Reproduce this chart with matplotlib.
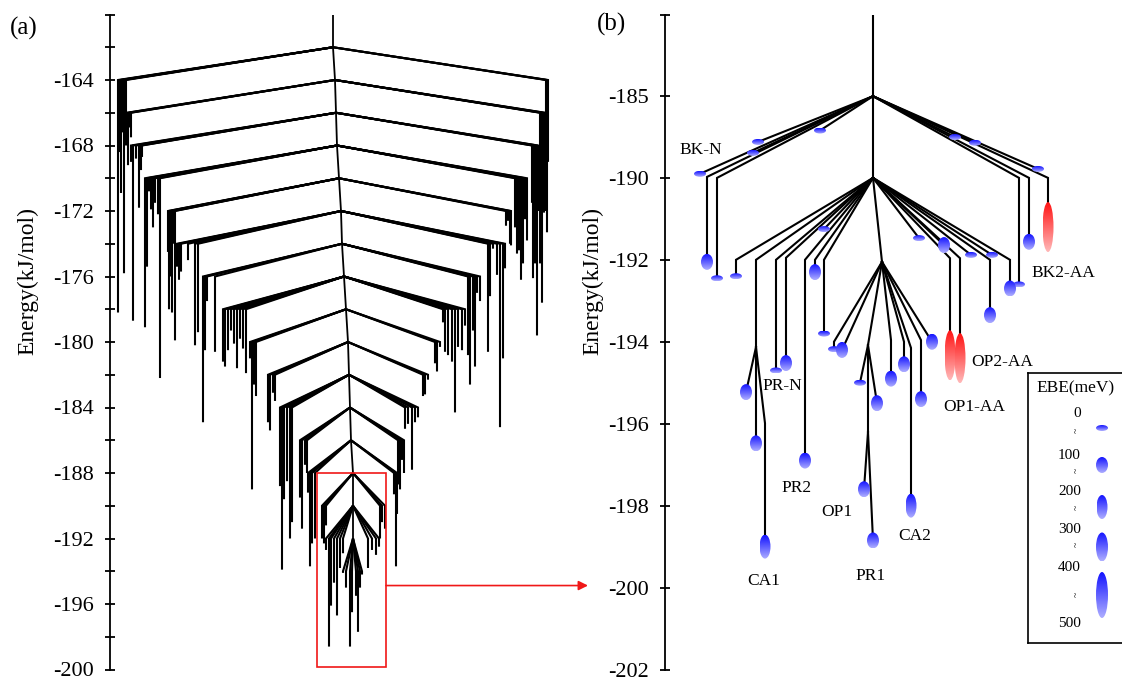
import numpy as np
import matplotlib
matplotlib.use("Agg")
import matplotlib.pyplot as plt
import matplotlib.transforms as mtransforms
from matplotlib.patches import Ellipse, Rectangle
from matplotlib.collections import LineCollection

plt.rcParams['font.family'] = ['Liberation Serif', 'DejaVu Serif']
plt.rcParams['axes.unicode_minus'] = False

nan = np.nan

# ---------------------------------------------------------------------------
# Panel (a): disconnectivity graph of the full landscape
# ---------------------------------------------------------------------------
a_top_E = -160.0
a_step = 2.0  # each basin splits 2 kJ/mol below its parent node
a_apex_E = [-162, -164, -166, -168, -170, -172, -174, -176, -178, -180,
            -182, -184, -186, -188, -190, -192]
a_apex_x = [333, 335, 336, 337, 339, 341, 342, 344, 346, 348,
            349, 350, 351, 353, 353, 353]
# minima hanging from every node: (horizontal slot, energy of the minimum)
a_minima = [
    [(118, -178.2), (120, -168.4), (121, -170.9), (123, -167.2), (124, -175.8), (126, -168.0),
     (546, -172.0), (547, -173.3), (548, -169.0)],
    [(127, -167.4), (128, -169.2), (130, -166.9), (131, -167.5),
     (540, -175.2), (541, -169.0), (542, -177.6), (544, -172.1), (545, -168.5)],
    [(131, -169.0), (133, -178.7), (136, -168.8), (139, -171.8), (141, -169.5), (142, -168.7),
     (532, -171.5), (533, -176.1), (535, -175.2), (537, -179.6), (538, -172.0)],
    [(145, -179.1), (147, -175.4), (149, -170.8), (151, -171.9), (153, -173.0), (155, -171.5),
     (158, -172.2), (160, -182.2),
     (515, -173.0), (517, -174.6), (519, -174.4), (521, -176.2), (523, -175.2), (525, -172.5),
     (527, -173.8)],
    [(168, -174.5), (169, -178.0), (171, -176.0), (172, -178.2), (174, -174.0), (175, -179.9),
     (506, -172.9), (508, -172.6), (510, -174.0), (511, -174.1)],
    [(177, -175.4), (179, -176.2), (181, -175.7), (188, -175.0), (195, -180.2), (198, -179.4),
     (488, -180.6), (490, -177.2), (493, -174.3), (497, -175.9), (500, -185.2), (503, -181.0),
     (505, -175.5)],
    [(203, -184.9), (205, -180.5), (207, -177.5), (215, -180.6),
     (468, -180.8), (470, -182.6), (473, -179.3), (475, -181.5), (477, -177.0), (480, -177.5)],
    [(223, -181.2), (225, -181.5), (228, -180.5), (231, -179.3), (234, -180.1), (237, -181.6),
     (240, -179.8), (243, -180.4), (246, -181.9),
     (443, -178.8), (445, -180.6), (448, -180.8), (452, -181.2), (455, -184.3), (458, -180.3),
     (462, -180.5), (465, -179.0)],
    [(250, -181.0), (252, -189.0), (254, -182.6), (256, -183.3),
     (435, -181.3), (437, -181.8), (440, -180.3)],
    [(268, -184.9), (270, -185.4), (273, -183.1), (275, -183.6),
     (423, -183.3), (425, -183.2), (428, -182.3)],
    [(280, -188.8), (282, -193.9), (284, -189.6), (287, -188.5), (290, -192.0), (292, -191.0),
     (405, -185.3), (408, -185.0), (412, -187.8), (415, -184.9), (418, -184.6)],
    [(300, -189.5), (302, -191.4), (305, -187.5), (307, -188.0),
     (398, -188.7), (400, -189.0), (402, -187.2), (404, -188.0)],
    [(308, -189.2), (310, -193.7), (312, -192.3), (315, -192.0),
     (394, -189.3), (396, -193.7), (397, -190.5)],
    [(322, -192.0), (324, -192.3), (326, -191.2),
     (380, -192.0), (382, -191.0), (385, -191.4)],
    [(326, -192.7), (329, -198.6), (331, -196.1), (334, -194.7), (337, -196.7), (340, -193.8),
     (343, -192.9),
     (368, -193.8), (372, -192.7), (376, -193.0), (379, -192.5)],
    [(343, -194.1), (346, -195.0), (350, -198.6), (352, -196.5),
     (356, -195.5), (358, -197.7), (360, -195.0), (362, -194.2)],
]
a_zoom_E = (-199.85, -188.0)   # energy window enlarged in panel (b)
a_zoom_x = (317, 386)

# ---------------------------------------------------------------------------
# Panel (b): enlarged low-energy funnel
# ---------------------------------------------------------------------------
b_nodes = {'top': (873, -180.0), 'A': (873, -185.0), 'B': (873, -190.0),
           'C': (882, -192.05), 'D': (868, -194.08), 'E': (868, -196.2),
           'S': (756, -194.13)}
b_links = [('top', 'A', nan), ('A', 'B', nan), ('B', 'C', nan), ('C', 'D', nan),
           ('D', 'E', nan), ('B', 'S', -192.0)]

b_leaf_parent = ['A'] * 12 + ['B'] * 15 + ['S'] * 3 + ['C'] * 7 + ['D'] * 2 + ['E'] * 2
b_leaf_x = [700, 753, 758, 820, 707, 717, 955, 975, 1038, 1019, 1029, 1048,
            736, 776, 786, 805, 815, 824, 824, 919, 944, 950, 960, 971, 992, 990, 1010,
            746, 756, 765,
            834, 842, 891, 904, 911, 921, 932,
            860, 877, 864, 873]
b_leaf_bend = [nan, nan, nan, nan, -189.94, -190.0, nan, nan, nan, -190.0, -190.0, -190.0,
               -192.0, -192.0, -191.95, -192.0, -192.0, -192.0, nan, nan, nan, -191.96, -191.96,
               nan, nan, -192.0, -192.0,
               nan, nan, -195.99,
               -194.0, nan, -193.96, -194.0, -194.15, -193.96, nan,
               nan, nan, nan, nan]
b_leaf_E = [-189.75, -188.47, -187.8, -187.1, -192.05, -192.45, -187.5, -187.85, -189.45,
            -192.6, -191.56, -191.2,
            -192.4, -194.7, -194.52, -196.9, -192.3, -193.8, -191.25, -191.47, -191.64,
            -194.33, -194.4, -191.88, -191.88, -193.35, -192.7,
            -195.23, -196.48, -199.0,
            -194.18, -194.2, -194.9, -194.55, -198.0, -195.4, -194.0,
            -195.0, -195.5, -197.6, -198.85]
# electron binding energy of each minimum (meV)
b_leaf_ebe = [50, 50, 50, 50, 150, 50, 50, 50, 50, 50, 150, 560,
              50, 50, 150, 150, 150, 50, 50, 50, 150, 560, 560, 50, 50, 150, 150,
              150, 150, 250,
              50, 150, 150, 150, 250, 150, 150,
              50, 150, 150, 150]

b_lab_text = ['BK-N', 'BK2-AA', 'PR-N', 'OP2-AA', 'OP1-AA', 'PR2', 'OP1', 'CA2', 'CA1', 'PR1']
b_lab_x = [701, 1063, 782, 1002, 974, 797, 837, 915, 764, 871]
b_lab_E = [-188.27, -192.33, -195.09, -194.50, -195.60, -197.56, -198.16, -198.73,
           -199.84, -199.71]

ebe_levels = [0, 100, 200, 300, 400, 500]
a_ticks_major = np.arange(-200, -163, 4)
a_ticks_minor = np.arange(-200, -159, 2)
b_ticks_major = [-202, -200, -198, -196, -194, -192, -190, -185]
b_ticks_minor = [-180]

# ---------------------------------------------------------------------------
W, H = 1122, 677
fig = plt.figure(figsize=(W / 100, H / 100), dpi=100)


def frame(x0, y0, x1, y1):
    return [x0 / W, 1 - y1 / H, (x1 - x0) / W, (y1 - y0) / H]


def style_axis(ax):
    for s in ('top', 'right', 'bottom'):
        ax.spines[s].set_visible(False)
    ax.spines['left'].set_linewidth(1.3)
    ax.xaxis.set_visible(False)
    ax.tick_params(axis='y', which='both', direction='inout', length=7, width=1.3,
                   pad=8, labelsize=16)
    ax.patch.set_alpha(0)


BLUE_TOP, BLUE_BOT = (0.08, 0.08, 1.0, 1.0), (0.68, 0.68, 1.0, 1.0)
RED_TOP, RED_BOT = (1.0, 0.08, 0.08, 1.0), (1.0, 0.72, 0.72, 1.0)
BLOB_SIZE = [(12, 6), (12, 16), (11, 24), (12, 29), (12, 46)]
RED_SIZE = (11, 50)


def blob(ax, x, e, w, h, top, bot, z=4):
    """Gradient-filled ellipse of fixed pixel size centred on (x, e)."""
    tr = (mtransforms.Affine2D().scale(w / 2, h / 2)
          + mtransforms.ScaledTranslation(x, e, ax.transData))
    ell = Ellipse((0, 0), 2, 2, transform=tr, facecolor='none', edgecolor='none')
    ax.add_patch(ell)
    t = np.linspace(0, 1, 48)[:, None, None]
    img = (1 - t) * np.array(top)[None, None, :] + t * np.array(bot)[None, None, :]
    im = ax.imshow(img, extent=(-1, 1, -1, 1), transform=tr, origin='upper',
                   aspect='auto', interpolation='bilinear', zorder=z)
    im.set_clip_path(ell)


def blob_for(ebe):
    if ebe > 500:
        return RED_SIZE, RED_TOP, RED_BOT
    return BLOB_SIZE[min(int(ebe // 100), 4)], BLUE_TOP, BLUE_BOT


# ------------------------------ panel (a) ----------------------------------
axa = fig.add_axes(frame(110, 14.5, 600, 669.5))
axa.set_xlim(110, 600)
axa.set_ylim(-200, -160)
axa.set_autoscale_on(False)
style_axis(axa)
axa.set_yticks(a_ticks_major)
axa.set_yticks(a_ticks_minor, minor=True)
axa.set_yticklabels([f'{int(v)}' for v in a_ticks_major])
axa.set_ylabel('Energy(kJ/mol)', fontsize=17)
axa.yaxis.set_label_coords(-0.147, 0.593)

trunk_x = [a_apex_x[0]] + a_apex_x
trunk_E = [a_top_E] + a_apex_E
axa.plot(trunk_x, trunk_E, color='k', lw=1.3, solid_joinstyle='miter')
segs = []
for px, pe, mins in zip(a_apex_x, a_apex_E, a_minima):
    for x, e in mins:
        segs.append([(px, pe), (x, pe - a_step), (x, e)])
axa.add_collection(LineCollection(segs, colors='k', linewidths=1.5,
                                  joinstyle='miter', capstyle='butt'))

red = '#f01818'
axa.add_patch(Rectangle((a_zoom_x[0], a_zoom_E[0]), a_zoom_x[1] - a_zoom_x[0],
                        a_zoom_E[1] - a_zoom_E[0], fill=False, edgecolor=red, lw=1.2,
                        zorder=5))
arrow_E = a_zoom_E[0] + 0.42 * (a_zoom_E[1] - a_zoom_E[0])
axa.annotate('', xy=(588, arrow_E), xytext=(a_zoom_x[1], arrow_E),
             arrowprops=dict(arrowstyle='-|>', color=red, lw=1.2, mutation_scale=14,
                             shrinkA=0, shrinkB=0), annotation_clip=False)

# ------------------------------ panel (b) ----------------------------------
r = 0.3988  # compression of the upper part of the energy axis


def fwd(e):
    e = np.asarray(e, dtype=float)
    return np.where(e < -190, e, -190 + (e + 190) * r)


def inv(y):
    y = np.asarray(y, dtype=float)
    return np.where(y < -190, y, -190 + (y + 190) / r)


axb = fig.add_axes(frame(664.5, 14.5, 1122, 669.5))
axb.set_yscale('function', functions=(fwd, inv))
axb.set_xlim(664.5, 1122)
axb.set_ylim(-202, -180)
axb.set_autoscale_on(False)
style_axis(axb)
axb.set_yticks(b_ticks_major)
axb.set_yticks(b_ticks_minor, minor=True)
axb.set_yticklabels([f'{v}' for v in b_ticks_major])
axb.yaxis.set_minor_formatter(plt.NullFormatter())
axb.set_ylabel('Energy(kJ/mol)', fontsize=17)
axb.yaxis.set_label_coords(-0.134, 0.593)

lw_b = 1.5
for p, c, bend in b_links:
    (x0, e0), (x1, e1) = b_nodes[p], b_nodes[c]
    if np.isnan(bend):
        axb.plot([x0, x1], [e0, e1], color='k', lw=lw_b)
    else:
        axb.plot([x0, x1, x1], [e0, bend, e1], color='k', lw=lw_b,
                 solid_joinstyle='miter')

for p, x, bend, e, ebe in zip(b_leaf_parent, b_leaf_x, b_leaf_bend, b_leaf_E, b_leaf_ebe):
    x0, e0 = b_nodes[p]
    if np.isnan(bend):
        axb.plot([x0, x], [e0, e], color='k', lw=lw_b)
    else:
        axb.plot([x0, x, x], [e0, bend, e], color='k', lw=lw_b, solid_joinstyle='miter')
    (w, h), top, bot = blob_for(ebe)
    blob(axb, x, e, w, h, top, bot)

for t, x, e in zip(b_lab_text, b_lab_x, b_lab_E):
    axb.text(x, e, t, ha='center', va='center', fontsize=12.5)

# legend of electron binding energies
axl = fig.add_axes(frame(1028, 373, 1140, 643))
axl.set_xlim(1028, 1140)
axl.set_ylim(643, 373)
axl.set_autoscale_on(False)
axl.set_xticks([])
axl.set_yticks([])
for s in axl.spines.values():
    s.set_linewidth(1.2)
axl.text(1036, 388, 'EBE(meV)', ha='left', va='center', fontsize=12.5)
num_y = [413.5, 455.5, 492, 530, 568, 623.5]
sep_y = [430, 470, 507, 544, 594]
blob_y = [428, 465, 507, 547, 595]
for lev, y in zip(ebe_levels, num_y):
    axl.text(1081, y, f'{lev}', ha='right', va='center', fontsize=11)
for i, (ys, yb) in enumerate(zip(sep_y, blob_y)):
    axl.text(1076, ys, '~', ha='center', va='center', fontsize=7, rotation=90)
    (w, h), top, bot = blob_for(ebe_levels[i] + 50)
    blob(axl, 1102, yb, w, h, top, bot)

fig.text(24 / W, 1 - 28 / H, '(a)', ha='center', va='center', fontsize=18)
fig.text(611 / W, 1 - 24 / H, '(b)', ha='center', va='center', fontsize=18)

fig.savefig('out.png', dpi=100)
